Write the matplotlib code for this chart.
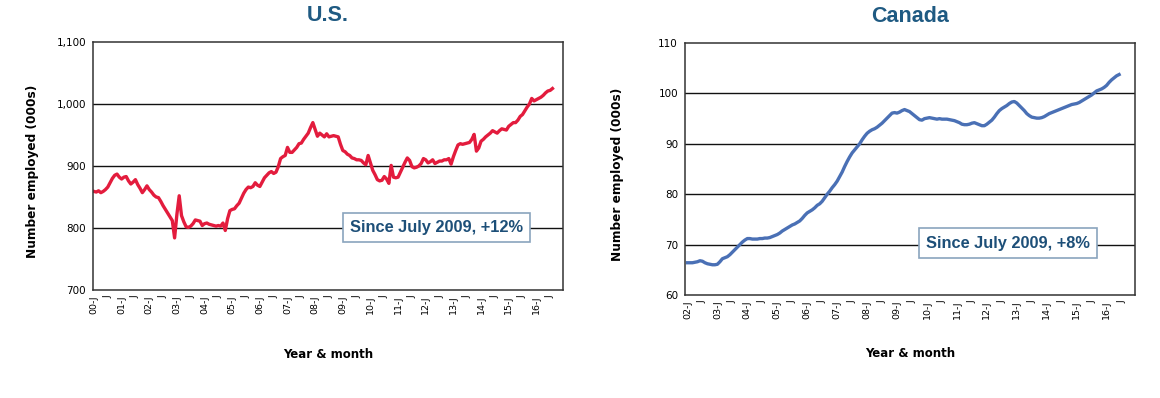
import numpy as np
import matplotlib
matplotlib.use("Agg")
import matplotlib.pyplot as plt

# monthly employment, thousands
us_start_year = 2000
us_values = [
    859, 858, 860, 857, 859, 862, 866, 873, 880, 885, 887, 882,
    879, 882, 883, 876, 871, 874, 878, 870, 864, 857, 862, 868,
    862, 858, 853, 850, 849, 843, 836, 830, 824, 818, 812, 784,
    822, 852, 820, 810, 802, 801, 803, 807, 813, 812, 811, 804,
    807, 808, 806, 805, 804, 803, 804, 803, 808, 796, 815, 828,
    830, 831, 836, 840, 848, 856, 862, 866, 865, 867, 873, 869,
    867, 874, 881, 885, 889, 891, 888, 890, 899, 912, 915, 917,
    930, 922, 922, 926, 930, 936, 937, 943, 948, 953, 962, 970,
    959, 948, 953, 950, 947, 952, 947, 948, 949, 948, 947, 935,
    925, 923, 919, 917, 913, 912, 910, 910, 909, 905, 902, 917,
    905, 893, 886, 878, 876, 877, 883, 879, 872, 901, 882, 881,
    882, 890, 898, 906, 913, 909, 899, 897, 898, 900, 904, 912,
    910, 905, 907, 910, 904, 906, 908, 908, 910, 910, 912, 903,
    915, 925, 934, 936, 935, 936, 937, 938, 943, 951, 924, 929,
    940, 943, 947, 950, 953, 957, 955, 953, 957, 960, 959, 958,
    964, 967, 970, 970, 974, 980, 983, 989, 995, 1000, 1009, 1005,
    1007, 1009, 1011, 1014, 1018, 1021, 1022, 1025,
]

ca_start_year = 2002
ca_values = [
    66.4, 66.4, 66.4, 66.5, 66.6, 66.8, 66.7, 66.4, 66.2, 66.1, 66.0, 66.0,
    66.1, 66.6, 67.2, 67.4, 67.6, 68.0, 68.5, 69.0, 69.5, 70.0, 70.5, 70.9,
    71.2, 71.2, 71.1, 71.1, 71.1, 71.2, 71.2, 71.3, 71.3, 71.4, 71.6, 71.8,
    72.0, 72.3, 72.7, 73.0, 73.3, 73.6, 73.9, 74.1, 74.4, 74.7, 75.2, 75.8,
    76.3, 76.6, 76.9, 77.3, 77.8, 78.1, 78.6, 79.3, 80.0, 80.6, 81.3, 81.9,
    82.6, 83.5, 84.4, 85.5, 86.5, 87.4, 88.2, 88.8, 89.4, 90.0, 90.8, 91.5,
    92.1, 92.5, 92.8, 93.0, 93.3, 93.7, 94.1, 94.6, 95.1, 95.6, 96.1, 96.2,
    96.1, 96.3, 96.6, 96.8, 96.6, 96.4, 96.0, 95.6, 95.2, 94.8, 94.7, 95.0,
    95.1, 95.2, 95.1, 95.0, 94.9, 95.0, 94.9, 94.9, 94.9, 94.8, 94.7, 94.6,
    94.4, 94.2, 93.9, 93.8, 93.8, 93.9, 94.1, 94.2, 94.0, 93.8, 93.6, 93.6,
    93.9, 94.3, 94.7, 95.3, 96.0, 96.6, 97.0, 97.3, 97.6, 98.0, 98.3, 98.4,
    98.1, 97.6, 97.1, 96.6, 96.0, 95.6, 95.3, 95.2, 95.1, 95.1, 95.2, 95.4,
    95.7, 96.0, 96.2, 96.4, 96.6, 96.8, 97.0, 97.2, 97.4, 97.6, 97.8, 97.9,
    98.0, 98.2, 98.5, 98.8, 99.1, 99.4, 99.7, 100.1, 100.5, 100.7, 100.9, 101.2,
    101.6, 102.2, 102.7, 103.1, 103.5, 103.75,
]

us_note = "Since July 2009, +12%"
ca_note = "Since July 2009, +8%"

title_color = "#1f5a82"
note_color = "#1d4f78"


def half_year_labels(start_year, end_year):
    # "00-J" for January, "J" for July
    labels = []
    for yr in range(start_year, end_year + 1):
        labels.append("%02d-J" % (yr % 100))
        labels.append("J")
    return labels


def draw_panel(ax, start_year, values, color, title, yticks, ytick_fmt,
               xlim, note, note_xy, ylabel_x, xlabel_pad):
    months = np.arange(len(values))
    ax.plot(months, values, color=color, lw=2.4, solid_joinstyle="round")

    ax.set_xlim(*xlim)
    ax.set_ylim(yticks[0], yticks[-1])
    ax.set_yticks(yticks)
    ax.set_yticklabels([ytick_fmt(v) for v in yticks], fontsize=7.5)
    for v in yticks[1:-1]:
        ax.axhline(v, color="#111111", lw=1.0, zorder=0)

    labels = half_year_labels(start_year, 2016)
    ax.set_xticks(np.arange(len(labels)) * 6)
    ax.set_xticklabels(labels, rotation=90, fontsize=6.8)
    ax.tick_params(length=0, pad=4)
    ax.tick_params(axis="y", pad=5)

    for sp in ax.spines.values():
        sp.set_color("#333333")
        sp.set_linewidth(1.1)

    ax.set_title(title, fontsize=15.5, fontweight="bold", color=title_color,
                 family="Liberation Sans", pad=15)
    ax.set_xlabel("Year & month", fontsize=8.5, fontweight="bold",
                  labelpad=xlabel_pad)
    ax.set_ylabel("Number employed (000s)", fontsize=8.7, fontweight="bold")
    ax.yaxis.set_label_coords(ylabel_x, 0.48)

    ax.text(note_xy[0], note_xy[1], note, transform=ax.transAxes,
            ha="center", va="center", fontsize=11.8, fontweight="bold",
            color=note_color, family="Liberation Sans", zorder=5,
            bbox=dict(boxstyle="square,pad=0.45", fc="white",
                      ec="#8aa4bd", lw=1.2))


fig = plt.figure(figsize=(11.6, 3.98), dpi=100)

ax_us = fig.add_axes([0.0802, 0.2714, 0.405, 0.623])
draw_panel(ax_us, us_start_year, us_values, "#e31c3d", "U.S.",
           [700, 800, 900, 1000, 1100], lambda v: "{:,}".format(v),
           (-0.4, 203.5), us_note, (0.731, 0.252), -0.115, 24)

ax_ca = fig.add_axes([0.5905, 0.2588, 0.388, 0.633])
draw_panel(ax_ca, ca_start_year, ca_values, "#4a70b5", "Canada",
           [60, 70, 80, 90, 100, 110], lambda v: str(v),
           (-1.0, 179.4), ca_note, (0.718, 0.206), -0.135, 20)

fig.savefig("out.png", dpi=100)
